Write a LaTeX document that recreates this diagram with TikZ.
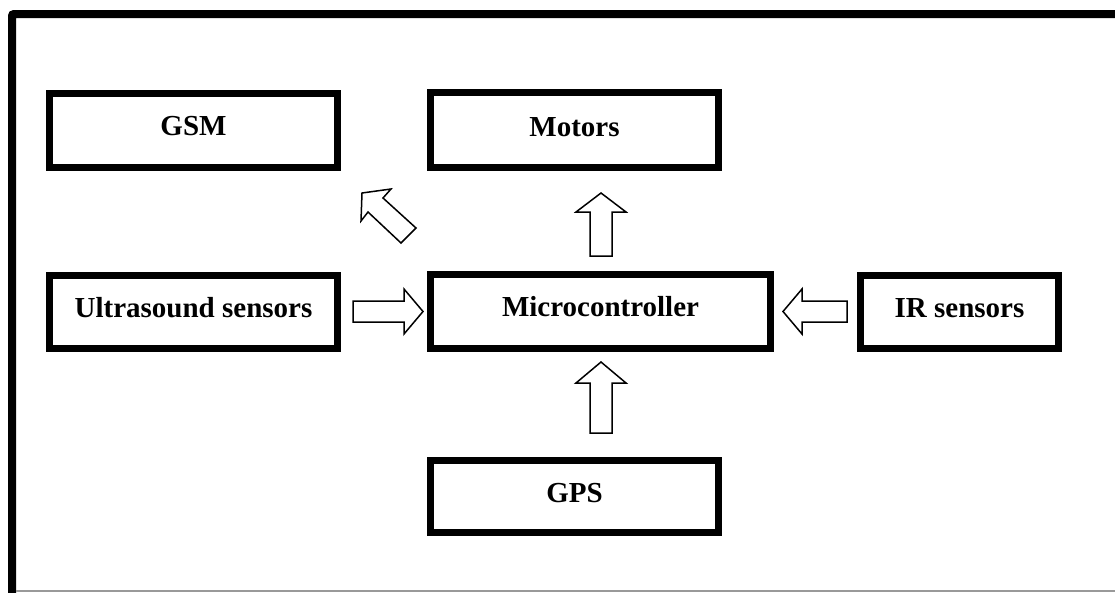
\documentclass[tikz,border=0pt]{standalone}
\usepackage{fontspec}
\setmainfont{Liberation Serif}
\begin{document}
\begin{tikzpicture}[x=1pt,y=-1pt]
\useasboundingbox (0,0) rectangle (1115,592);
\tikzset{
  blk/.style={draw, line width=7pt, inner sep=0pt},
  lbl/.style={inner sep=0pt, font=\fontsize{29}{31}\selectfont\bfseries},
  blockarrow/.style={draw, line width=1.5pt, fill=white, line join=miter}
}
% outer frame
\draw[line width=8pt, rounded corners=2pt] (12,600) -- (12,14) -- (1125,14);
\draw[gray!80, line width=1.5pt] (16,591) -- (1115,591);
% boxes
\node[blk, minimum width=288pt, minimum height=74pt] (gsm) at (193.5,130.5) {};
\node[blk, minimum width=288pt, minimum height=75pt] (motors) at (574.5,130) {};
\node[blk, minimum width=288pt, minimum height=73pt] (us) at (193.5,312) {};
\node[blk, minimum width=340pt, minimum height=74pt] (mc) at (600.5,311.5) {};
\node[blk, minimum width=198pt, minimum height=73pt] (ir) at (959.5,312) {};
\node[blk, minimum width=288pt, minimum height=72pt] (gps) at (574.5,496) {};
% labels
\node[lbl] (tgsm) at ([yshift=4pt]gsm.center) {GSM};
\node[lbl] (tmotors) at ([yshift=3pt]motors.center) {Motors};
\node[lbl] (tus) at ([yshift=4pt]us.center) {Ultrasound sensors};
\node[lbl] (tmc) at ([yshift=5pt]mc.center) {Microcontroller};
\node[lbl] (tir) at ([yshift=4pt]ir.center) {IR sensors};
\node[lbl] (tgps) at ([yshift=3pt]gps.center) {GPS};
% block arrows
\draw[blockarrow] (353,301) -- (404,301) -- (404,289) -- (423,311.5) -- (404,334) -- (404,322) -- (353,322) -- cycle;
\draw[blockarrow] (847,301) -- (802,301) -- (802,289) -- (783,311.5) -- (802,334) -- (802,322) -- (847,322) -- cycle;
\draw[blockarrow] (590,256) -- (590,212) -- (576,212) -- (601,193) -- (626,212) -- (612,212) -- (612,256) -- cycle;
\draw[blockarrow] (590,433) -- (590,383) -- (576,383) -- (601,362) -- (626,383) -- (612,383) -- (612,433) -- cycle;
\draw[blockarrow] (362,193) -- (391,189) -- (383,198) -- (416,228) -- (401,243) -- (368,212) -- (361,221) -- cycle;
\end{tikzpicture}
\end{document}
